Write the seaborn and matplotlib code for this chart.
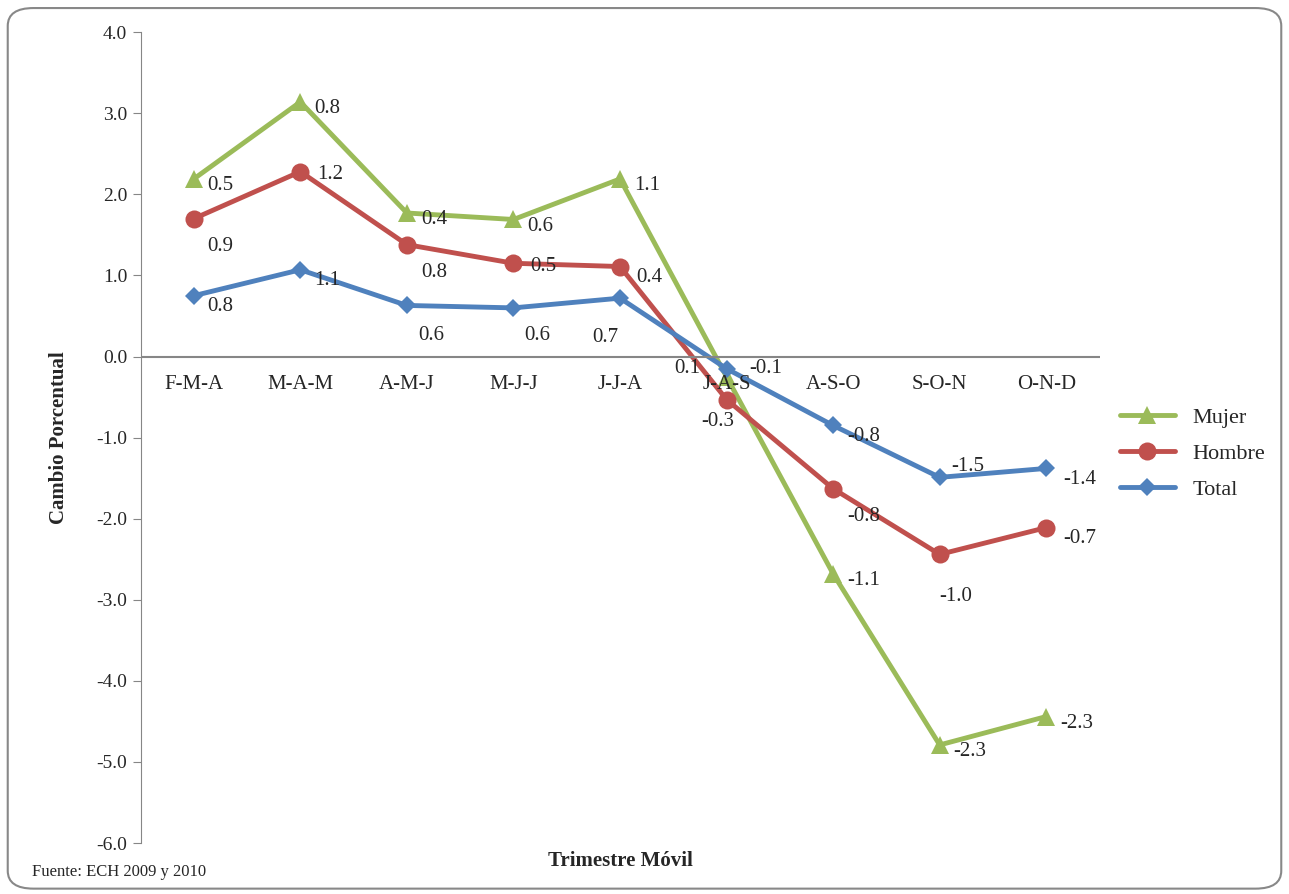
import matplotlib
matplotlib.use("Agg")
import matplotlib.pyplot as plt
import seaborn as sns
import pandas as pd
from matplotlib.patches import FancyBboxPatch

cats = ["F-M-A","M-A-M","A-M-J","M-J-J","J-J-A","J-A-S","A-S-O","S-O-N","O-N-D"]
mujer = [2.19,3.14,1.77,1.69,2.19,-0.25,-2.68,-4.79,-4.44]
hombre = [1.70,2.28,1.38,1.15,1.11,-0.53,-1.63,-2.44,-2.11]
total = [0.75,1.07,0.63,0.60,0.72,-0.15,-0.85,-1.49,-1.38]
lab_mujer = ["0.5","0.8","0.4","0.6","1.1","0.1","-1.1","-2.3","-2.3"]
lab_hombre = ["0.9","1.2","0.8","0.5","0.4","-0.3","-0.8","-1.0","-0.7"]
lab_total = ["0.8","1.1","0.6","0.6","0.7","-0.1","-0.8","-1.5","-1.4"]

sns.set_style("white")
plt.rcParams['font.family'] = ['Liberation Serif', 'DejaVu Serif']

fig = plt.figure(figsize=(12.89, 8.94), dpi=100)
ax = fig.add_axes([0.109, 0.057, 0.744, 0.907])
fig.patches.append(FancyBboxPatch((0.006, 0.006), 0.988, 0.985, boxstyle="round,pad=0,rounding_size=0.02",
                                  transform=fig.transFigure, fill=False, ec="#888888", lw=1.5))

x = list(range(len(cats)))
df = pd.DataFrame({"x": x * 3, "v": mujer + hombre + total,
                   "s": ["Mujer"] * 9 + ["Hombre"] * 9 + ["Total"] * 9})
pal = {"Mujer": "#9BBB59", "Hombre": "#C0504D", "Total": "#4F81BD"}
mk = {"Mujer": "^", "Hombre": "o", "Total": "D"}
for s in ["Mujer", "Hombre", "Total"]:
    d = df[df.s == s]
    sns.lineplot(data=d, x="x", y="v", ax=ax, color=pal[s], lw=3.5, marker=mk[s],
                 markersize={"Mujer": 13, "Hombre": 13, "Total": 9}[s], markeredgewidth=0, label=s)

fs = 15
offs_m = [(10,-5)]*9; offs_m[5] = (-38,6)
offs_h = [(10,-20)]*9; offs_h[1] = (12,-2); offs_h[3] = (12,-2); offs_h[4] = (12,-8); offs_h[5] = (-18,-16); offs_h[7]=(0,-30); offs_h[8]=(12,-8)
offs_t = [(10,-8)]*9; offs_t[2]=(8,-22); offs_t[3]=(8,-20); offs_t[4]=(-20,-28); offs_t[5]=(16,0); offs_t[6]=(10,-8); offs_t[7]=(8,8); offs_t[8]=(12,-8)
for vals, labs, offs in [(mujer, lab_mujer, offs_m), (hombre, lab_hombre, offs_h), (total, lab_total, offs_t)]:
    for i in x:
        ax.annotate(labs[i], (i, vals[i]), xytext=offs[i], textcoords="offset points",
                    fontsize=fs, ha="left", va="center")

ax.set_xlim(-0.5, 8.5)
ax.set_ylim(-6, 4)
ax.set_yticks([4,3,2,1,0,-1,-2,-3,-4,-5,-6])
ax.set_yticklabels([f"{v:.1f}" for v in [4,3,2,1,0,-1,-2,-3,-4,-5,-6]], fontsize=14)
ax.set_xticks([])
for i, c in enumerate(cats):
    ax.text(i, -0.35, c, ha="center", va="center", fontsize=15)
ax.axhline(0, color="#868686", lw=1.5)
for sp in ["top", "right", "bottom"]:
    ax.spines[sp].set_visible(False)
ax.spines["left"].set_color("#868686")
ax.tick_params(axis="y", direction="out", length=6, color="#868686", left=True)
ax.set_xlabel("Trimestre Móvil", fontsize=15, fontweight="bold")
ax.set_ylabel("Cambio Porcentual", fontsize=15, fontweight="bold")
ax.xaxis.set_label_coords(0.5, -0.01)
ax.yaxis.set_label_coords(-0.075, 0.5)
ax.legend(loc="center left", bbox_to_anchor=(1.0, 0.48), frameon=False, fontsize=16,
          handlelength=2.5, labelspacing=0.7)
fig.text(0.025, 0.02, "Fuente: ECH 2009 y 2010", fontsize=12)
fig.savefig("out.png", dpi=100)
